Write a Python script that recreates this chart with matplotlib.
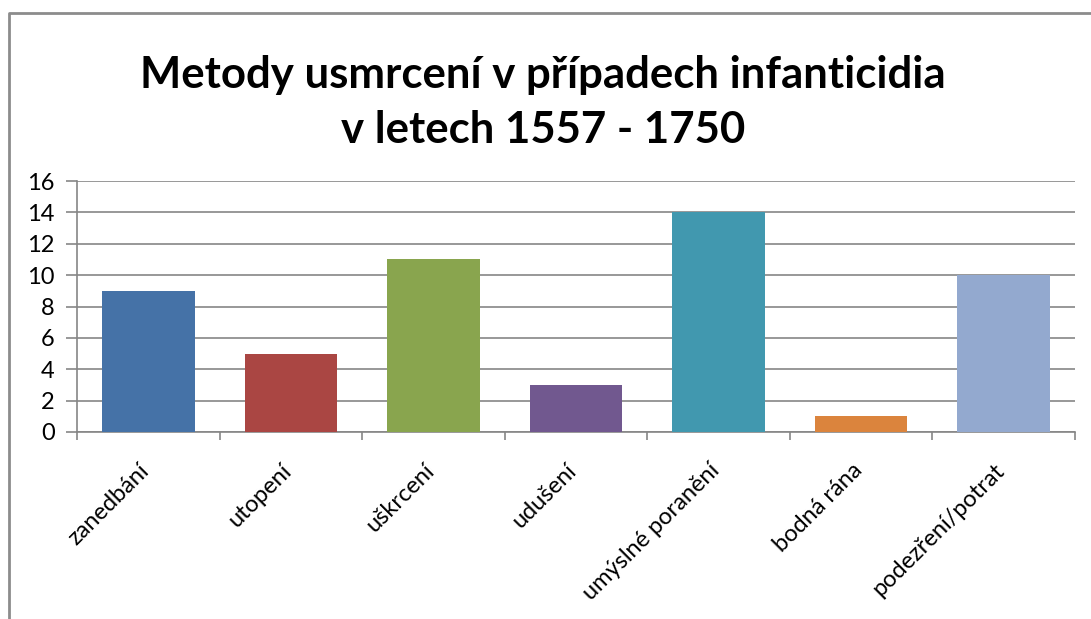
import matplotlib
matplotlib.use("Agg")
import matplotlib.pyplot as plt
from matplotlib.lines import Line2D
from matplotlib.transforms import ScaledTranslation

plt.rcParams['font.family'] = ['Lato', 'DejaVu Sans']

categories = ["zanedbání", "utopení", "uškrcení", "udušení",
              "umýslné poranění", "bodná rána", "podezření/potrat"]
values = [9, 5, 11, 3, 14, 1, 10]
colors = ["#4572A7", "#AA4643", "#89A54E", "#71588F",
          "#4198AF", "#DB843D", "#93A9CF"]
y_ticks = [0, 2, 4, 6, 8, 10, 12, 14, 16]

W, H = 1091, 619
fig = plt.figure(figsize=(W / 100, H / 100), dpi=100)

# plot area in pixel coordinates of the reference
left, right, top, bottom = 77, 1075, 181, 432
ax = fig.add_axes([left / W, 1 - bottom / H, (right - left) / W, (bottom - top) / H])

x = list(range(len(categories)))
ax.bar(x, values, width=0.65, color=colors, zorder=3)

ax.set_xlim(-0.5, len(categories) - 0.5)
ax.set_ylim(0, 16)
ax.set_yticks(y_ticks)
ax.set_yticklabels([str(v) for v in y_ticks], fontsize=17)
ax.yaxis.grid(True, color="#868686", linewidth=1.2, zorder=0)

ax.set_xticks([i - 0.5 for i in range(len(categories) + 1)])
ax.set_xticklabels([])
ax.set_xticks(x, minor=True)
ax.set_xticklabels(categories, minor=True, rotation=45, ha="right",
                   rotation_mode="anchor", fontsize=17)
ax.tick_params(axis="x", which="minor", length=0, pad=20)
ax.tick_params(axis="x", which="major", length=6, color="#868686", width=1.2)
ax.tick_params(axis="y", length=8, color="#868686", width=1.2, pad=8)

# nudge the rotated labels a little to the left, like the original
shift = ScaledTranslation(-10 / 100, 0, fig.dpi_scale_trans)
for lab in ax.get_xticklabels(minor=True):
    lab.set_transform(lab.get_transform() + shift)

for s in ["top", "right"]:
    ax.spines[s].set_visible(False)
for s in ["left", "bottom"]:
    ax.spines[s].set_color("#868686")
    ax.spines[s].set_linewidth(1.2)

fig.text(543 / W, 1 - 75 / H, "Metody usmrcení v případech infanticidia",
         ha="center", va="center", fontsize=31.5, fontweight="bold")
fig.text(543 / W, 1 - 130 / H, "v letech 1557 - 1750",
         ha="center", va="center", fontsize=31.5, fontweight="bold")

# chart frame (left and top edges visible)
fig.add_artist(Line2D([9 / W, 9 / W, 1.0], [0.0, 1 - 13 / H, 1 - 13 / H],
                      transform=fig.transFigure, color="#8c8c8c", linewidth=2))

fig.savefig("out.png", dpi=100)
